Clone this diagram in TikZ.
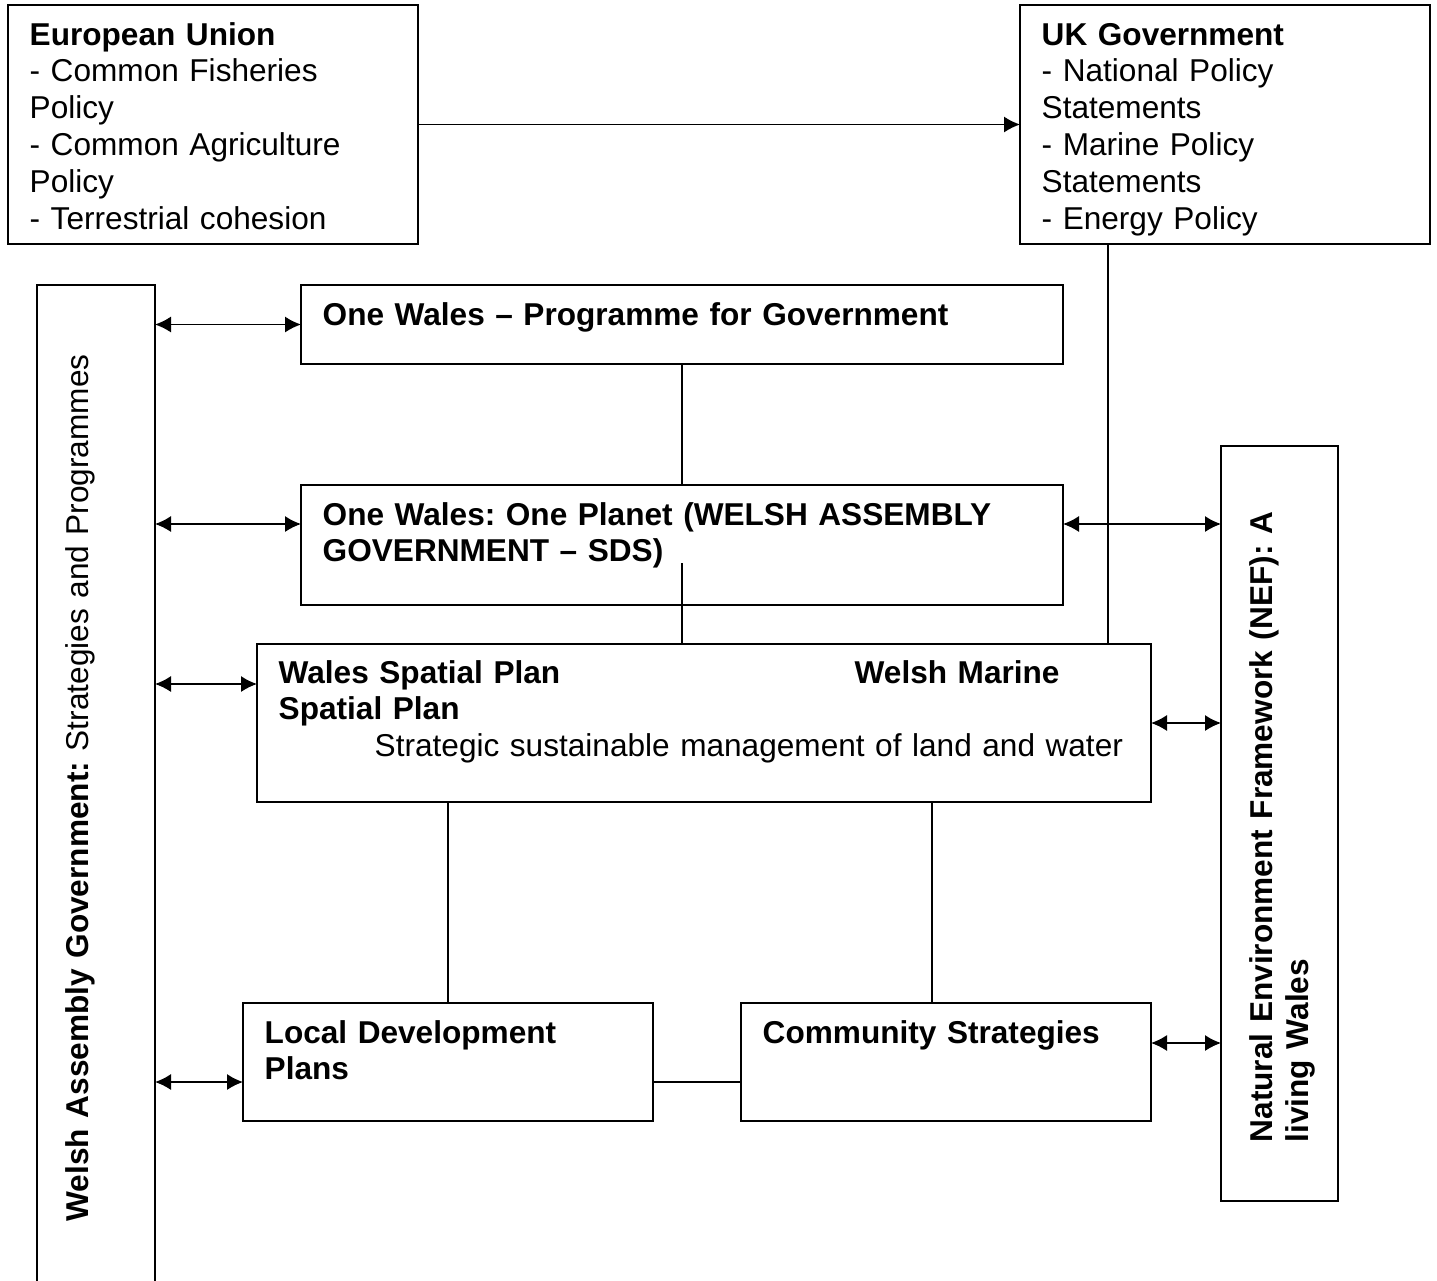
\documentclass[tikz,border=0pt]{standalone}
\usepackage{fontspec}
\setmainfont{Liberation Sans}
\usetikzlibrary{arrows.meta, positioning, calc}
\frenchspacing

\begin{document}
\begin{tikzpicture}[
        x=0.5pt, y=-0.5pt,
        >={Latex[length=8pt, width=8pt]},
        line width=0.7pt,
        box/.style={rectangle, draw, anchor=north west, inner sep=0pt, outer sep=0pt},
        txt/.style={anchor=base west, inner sep=0pt, text width=480pt, align=left, font=\fontsize{15.8pt}{18.4pt}\selectfont},
        head/.style={txt, font=\fontsize{15.8pt}{18.4pt}\selectfont\bfseries},
        link/.style={draw, <->}
    ]
    \useasboundingbox (0,0) rectangle (1437,1281);

    % Top level boxes
    \node [box, minimum width=205pt, minimum height=119.5pt] (eu) at (8,5) {};
    \node [box, minimum width=205pt, minimum height=119.5pt, right=301pt of eu] (uk) {};

    % Side columns
    \node [box, minimum width=59pt, minimum height=502.5pt] (wag) at (37,285) {};
    \node [box, minimum width=58.5pt, minimum height=377.5pt] (nef) at (1221,446) {};

    % Welsh plans
    \node [box, minimum width=381pt, minimum height=39.5pt] (owpg) at (301,285) {};
    \node [box, minimum width=381pt, minimum height=60pt, below=60.5pt of owpg] (owop) {};
    \node [box, minimum width=447pt, minimum height=79pt] (wsp) at (257,644) {};
    \node [box, minimum width=205pt, minimum height=59pt] (ldp) at (243,1003) {};
    \node [box, minimum width=205pt, minimum height=59pt, right=44pt of ldp] (cs) {};

    % Texts
    \node [txt] at ([shift={(21,40)}]eu.north west) {\textbf{European Union}\\- Common Fisheries\\Policy\\- Common Agriculture\\Policy\\- Terrestrial cohesion};
    \node [txt] at ([shift={(21,40)}]uk.north west) {\textbf{UK Government}\\- National Policy\\Statements\\- Marine Policy\\Statements\\- Energy Policy};
    \node [head] at ([shift={(21,40)}]owpg.north west) {One Wales – Programme for Government};
    \node [head] at ([shift={(21,40)}]owop.north west) {One Wales: One Planet (WELSH ASSEMBLY\\GOVERNMENT – SDS)};
    \node [head] at ([shift={(21,39)}]wsp.north west) {\makebox[288pt][l]{Wales Spatial Plan}Welsh Marine\\Spatial Plan\\\hspace*{48pt}\mdseries Strategic sustainable management of land and water};
    \node [head] at ([shift={(21,40)}]ldp.north west) {Local Development\\Plans};
    \node [head] at ([shift={(21,40)}]cs.north west) {Community Strategies};
    \node [txt, rotate=90] at (88,1222) {\textbf{Welsh Assembly Government:} Strategies and Programmes};
    \node [head, rotate=90] at ([shift={(51,-58)}]nef.south west) {Natural Environment Framework (NEF): A\\living Wales};

    % Lines
    \draw [->] (eu) -- (uk);
    \draw ([xshift=44pt]uk.south west) -- ([xshift=44pt]uk.south west |- wsp.north);
    \draw (owpg) -- (owop);
    \coordinate (owop_in) at ([yshift=-9pt]owop.center);
    \draw (owop_in) -- (owop_in |- wsp.north);
    \draw (ldp) -- (ldp |- wsp.south);
    \draw ([xshift=95.5pt]cs.north west) -- ([xshift=95.5pt]cs.north west |- wsp.south);
    \coordinate (ldp_cs) at ([yshift=19.5pt]ldp.south east);
    \draw (ldp_cs) -- (ldp_cs -| cs.west);

    % Links to the side columns
    \coordinate (owop_l) at ([yshift=10.5pt]owop.west);
    \coordinate (wsp_l) at ([yshift=19.5pt]wsp.west);
    \coordinate (ldp_l) at ([yshift=-10pt]ldp.west);
    \path [link] (owpg.west -| wag.east) -- (owpg.west);
    \path [link] (owop_l -| wag.east) -- (owop_l);
    \path [link] (wsp_l -| wag.east) -- (wsp_l);
    \path [link] (ldp_l -| wag.east) -- (ldp_l);
    \coordinate (owop_r) at ([yshift=10.5pt]owop.east);
    \coordinate (cs_r) at ([yshift=9.5pt]cs.east);
    \path [link] (owop_r) -- (owop_r -| nef.west);
    \path [link] (wsp.east) -- (wsp.east -| nef.west);
    \path [link] (cs_r) -- (cs_r -| nef.west);
\end{tikzpicture}
\end{document}
